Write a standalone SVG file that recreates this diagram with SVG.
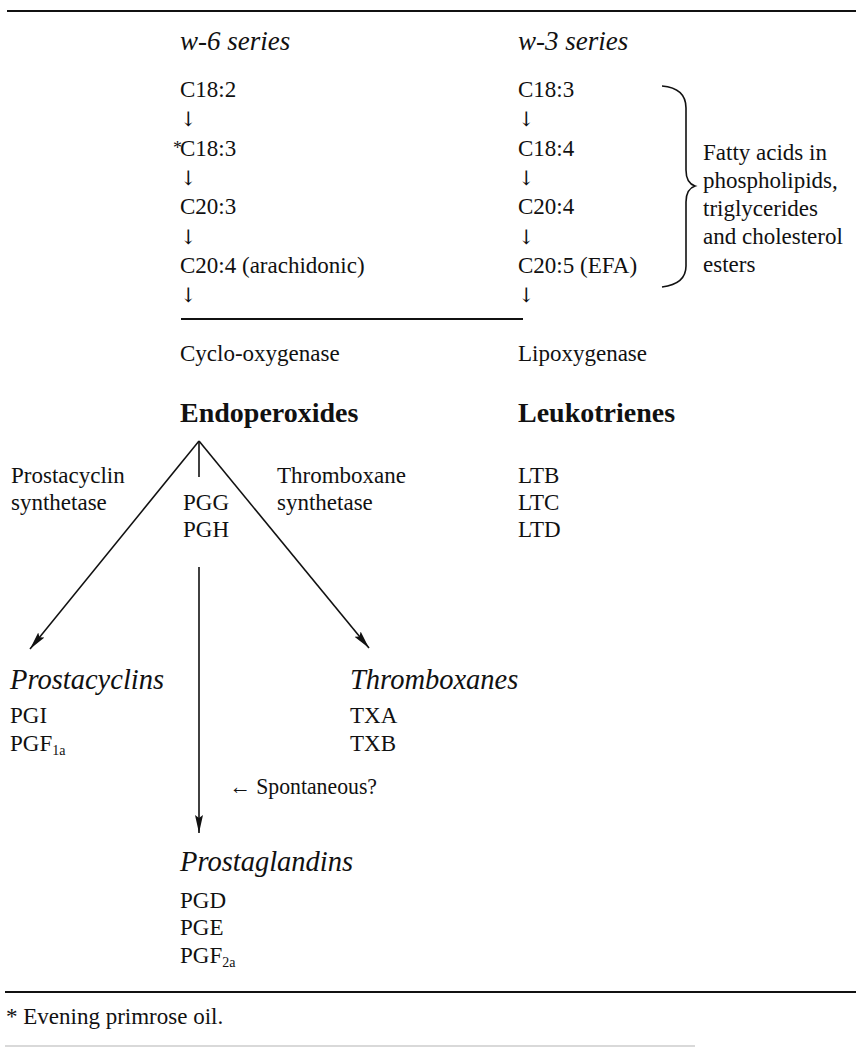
<svg xmlns="http://www.w3.org/2000/svg" width="856" height="1048" viewBox="0 0 856 1048">
<style>
text{font-family:"Liberation Serif","Times New Roman",serif;font-size:23px;fill:#111}
.it{font-style:italic;font-size:27px}
.ith{font-style:italic;font-size:28.5px}
.bd{font-weight:bold;font-size:28px}
.ar{font-family:"DejaVu Serif","Liberation Serif",serif;font-size:20px}
.sub{font-size:14px}
.ln{stroke:#111;fill:none}
</style>
<defs>
<marker id="ahl" viewBox="0 0 18 10" refX="18" refY="5" markerWidth="18" markerHeight="10" markerUnits="userSpaceOnUse" orient="auto">
<path d="M0,1 L18,5 L0,9 L3,5 Z" fill="#111"/>
</marker>
</defs>
<g id="rules">
<line class="ln" x1="7" y1="11" x2="856" y2="11" stroke-width="2.2"/>
<line class="ln" x1="5" y1="992" x2="856" y2="992" stroke-width="2"/>
<line x1="5" y1="1046" x2="695" y2="1046" stroke="#ccc" stroke-width="1.5"/>
</g>
<g id="w6-series">
<text class="it" x="180" y="50">w-6 series</text>
<text x="180" y="97">C18:2</text>
<text class="ar" x="180" y="126">↓</text>
<text><tspan x="173" y="154" font-size="18">*</tspan><tspan x="180" y="156">C18:3</tspan></text>
<text class="ar" x="180" y="185">↓</text>
<text x="180" y="214">C20:3</text>
<text class="ar" x="180" y="244">↓</text>
<text x="180" y="273">C20:4 (arachidonic)</text>
<text class="ar" x="180" y="302">↓</text>
</g>
<g id="w3-series">
<text class="it" x="518" y="50">w-3 series</text>
<text x="518" y="97">C18:3</text>
<text class="ar" x="518" y="126">↓</text>
<text x="518" y="156">C18:4</text>
<text class="ar" x="518" y="185">↓</text>
<text x="518" y="214">C20:4</text>
<text class="ar" x="518" y="244">↓</text>
<text x="518" y="273">C20:5 (EFA)</text>
<text class="ar" x="518" y="302">↓</text>
</g>
<g id="brace-note">
<path class="ln" stroke-width="1.6" d="M662,86 Q686,88 686,108 L686,170 Q686,183 695,186 Q686,189 686,202 L686,266 Q686,284 662,287"/>
<text x="703" y="160">Fatty acids in</text>
<text x="703" y="188">phospholipids,</text>
<text x="703" y="216">triglycerides</text>
<text x="703" y="244">and cholesterol</text>
<text x="703" y="272">esters</text>
</g>
<g id="divider">
<line class="ln" x1="181" y1="319" x2="523" y2="319" stroke-width="1.8"/>
</g>
<g id="enzymes">
<text x="180" y="361">Cyclo-oxygenase</text>
<text x="518" y="361">Lipoxygenase</text>
</g>
<g id="endoperoxides">
<text class="bd" x="180" y="422">Endoperoxides</text>
<text x="183" y="510">PGG</text>
<text x="183" y="537">PGH</text>
</g>
<g id="leukotrienes">
<text class="bd" x="518" y="422">Leukotrienes</text>
<text x="518" y="483">LTB</text>
<text x="518" y="510">LTC</text>
<text x="518" y="537">LTD</text>
</g>
<g id="enzyme-labels">
<text x="11" y="483">Prostacyclin</text>
<text x="11" y="510">synthetase</text>
<text x="277" y="483">Thromboxane</text>
<text x="277" y="510">synthetase</text>
<text x="229" y="794" textLength="148" lengthAdjust="spacingAndGlyphs">← Spontaneous?</text>
</g>
<g id="prostacyclins">
<text class="ith" x="10" y="689">Prostacyclins</text>
<text x="10" y="723">PGI</text>
<text x="10" y="751">PGF<tspan class="sub" dy="4">1a</tspan></text>
</g>
<g id="thromboxanes">
<text class="ith" x="350" y="689">Thromboxanes</text>
<text x="350" y="723">TXA</text>
<text x="350" y="751">TXB</text>
</g>
<g id="prostaglandins">
<text class="ith" x="180" y="871">Prostaglandins</text>
<text x="180" y="908">PGD</text>
<text x="180" y="935">PGE</text>
<text x="180" y="963">PGF<tspan class="sub" dy="4">2a</tspan></text>
</g>
<g id="connectors" class="ln" stroke-width="1.6">
<line x1="199" y1="441" x2="30" y2="649" marker-end="url(#ahl)"/>
<line x1="199" y1="441" x2="369" y2="648" marker-end="url(#ahl)"/>
<line x1="199" y1="441" x2="199" y2="477"/>
<line x1="199" y1="567" x2="199" y2="833" marker-end="url(#ahl)"/>
</g>
<g id="footnote">
<text x="6" y="1024" font-size="24">* Evening primrose oil.</text>
</g>
</svg>
